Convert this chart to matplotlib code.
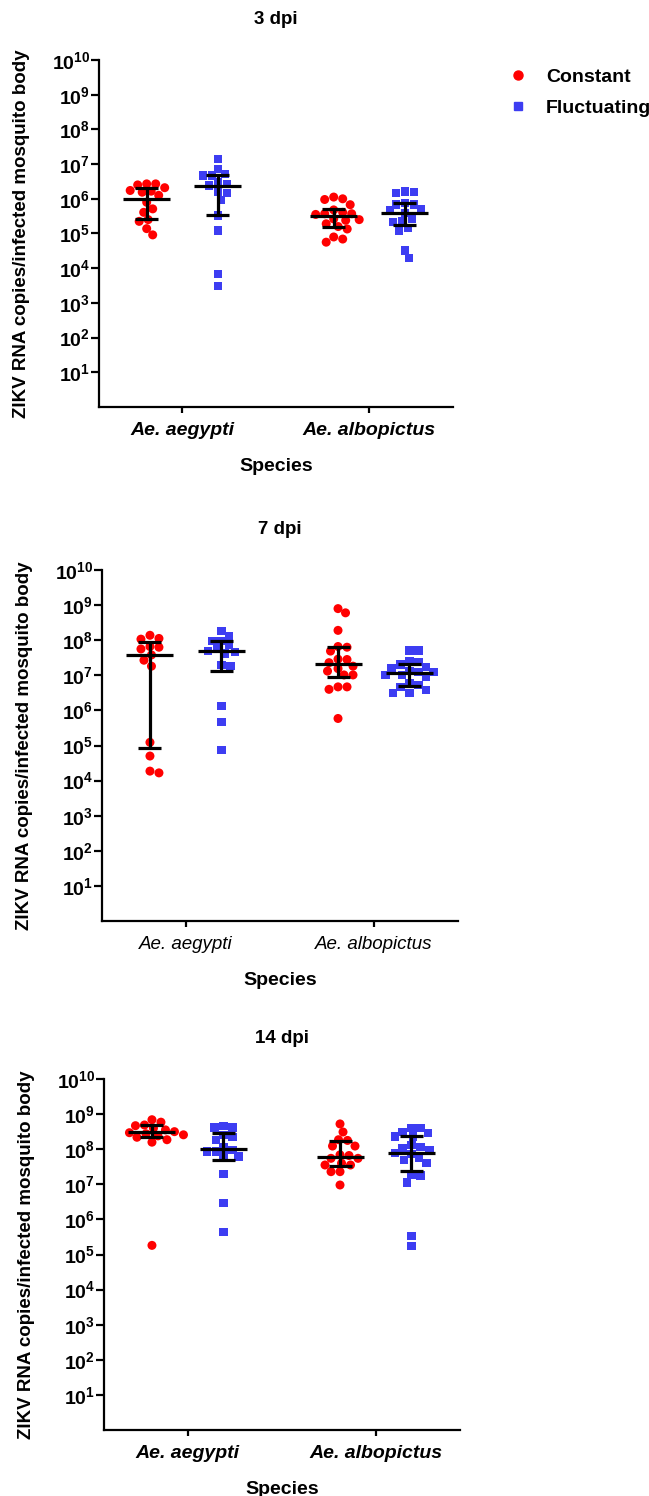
import matplotlib
matplotlib.use('Agg')
import matplotlib.pyplot as plt
import numpy as np
from matplotlib.ticker import FixedLocator, FuncFormatter, NullLocator
from matplotlib.lines import Line2D

plt.rcParams['font.family'] = ['Liberation Sans', 'DejaVu Sans']
plt.rcParams['mathtext.fontset'] = 'custom'
plt.rcParams['mathtext.bf'] = 'Liberation Sans:bold'
plt.rcParams['mathtext.rm'] = 'Liberation Sans'

species = ['Ae. aegypti', 'Ae. albopictus']
conditions = ['Constant', 'Fluctuating']
titles = ['3 dpi', '7 dpi', '14 dpi']

# log10(ZIKV RNA copies) per mosquito
d3_const_aeg = [6.40, 6.43, 6.43, 6.32, 6.24, 6.19, 6.22, 6.10, 5.90, 5.71, 5.61, 5.40, 5.35, 5.14, 4.96]
d3_fluc_aeg = [7.15, 6.86, 6.67, 6.72, 6.67, 6.48, 6.43, 6.38, 6.21, 6.16, 5.97, 5.52, 5.09, 3.84, 3.49]
d3_const_alb = [6.05, 5.98, 6.00, 5.83, 5.68, 5.57, 5.61, 5.55, 5.57, 5.42, 5.38, 5.40, 5.28, 5.20, 5.13, 4.90, 4.84, 4.75]
d3_fluc_alb = [6.21, 6.17, 6.19, 5.87, 5.84, 5.84, 5.66, 5.71, 5.59, 5.33, 5.42, 5.35, 5.16, 5.09, 4.51, 4.29]

d7_const_aeg = [8.05, 8.03, 8.14, 7.80, 7.75, 7.82, 7.58, 7.43, 7.26, 5.09, 4.70, 4.22, 4.27]
d7_fluc_aeg = [8.26, 8.12, 7.86, 7.98, 7.98, 7.77, 7.70, 7.62, 7.67, 7.29, 7.26, 6.12, 5.67, 4.87]
d7_const_alb = [8.78, 8.90, 8.28, 7.82, 7.80, 7.69, 7.45, 7.36, 7.46, 7.26, 7.12, 7.19, 7.01, 7.01, 6.67, 6.60, 6.67, 5.77]
d7_fluc_alb = [7.71, 7.71, 7.41, 7.38, 7.31, 7.20, 7.23, 7.10, 7.10, 7.13, 7.01, 6.96, 7.01, 6.72, 6.77, 6.58, 6.50, 6.50, 6.66]

d14_const_aeg = [8.77, 8.69, 8.60, 8.67, 8.84, 8.47, 8.38, 8.55, 8.44, 8.41, 8.50, 8.27, 8.20, 8.34, 5.26]
d14_fluc_aeg = [8.62, 8.62, 8.67, 8.41, 8.34, 8.27, 7.98, 7.93, 7.93, 8.05, 7.79, 7.79, 7.29, 6.47, 5.65]
d14_const_alb = [8.72, 8.49, 8.27, 8.25, 8.09, 8.09, 7.82, 7.84, 7.74, 7.74, 7.55, 7.36, 7.36, 7.60, 7.55, 6.98]
d14_fluc_alb = [8.60, 8.60, 8.47, 8.49, 8.36, 8.12, 8.03, 7.98, 8.06, 7.89, 7.86, 7.74, 7.69, 7.60, 7.25, 7.27, 7.05, 5.25, 5.52, 8.36]

# median, q1, q3 (log10) as drawn, order: const aeg, fluc aeg, const alb, fluc alb
d3_median = [6.00, 6.38, 5.50, 5.59]
d3_q1 = [5.42, 5.52, 5.18, 5.25]
d3_q3 = [6.31, 6.69, 5.71, 5.87]
d7_median = [7.58, 7.70, 7.31, 7.07]
d7_q1 = [4.94, 7.13, 6.94, 6.70]
d7_q3 = [7.96, 7.98, 7.80, 7.32]
d14_median = [8.49, 8.01, 7.77, 7.90]
d14_q1 = [8.36, 7.69, 7.53, 7.39]
d14_q3 = [8.69, 8.47, 8.24, 8.38]

panels = [
    ([d3_const_aeg, d3_fluc_aeg, d3_const_alb, d3_fluc_alb], d3_median, d3_q1, d3_q3),
    ([d7_const_aeg, d7_fluc_aeg, d7_const_alb, d7_fluc_alb], d7_median, d7_q1, d7_q3),
    ([d14_const_aeg, d14_fluc_aeg, d14_const_alb, d14_fluc_alb], d14_median, d14_q1, d14_q3),
]

red = '#ff0000'
blue = '#3d3df2'
W, H = 649, 1496


def swarm(logv, px_per_dec, dia=8.5, step=1.5):
    # simple beeswarm: horizontal pixel offsets so markers don't overlap much
    y = np.asarray(logv) * px_per_dec
    xs = np.zeros(len(y))
    placed = []
    cands = [0.0] + [s * j * step for j in range(1, 80) for s in (1, -1)]
    for i in np.argsort(-y):
        for c in cands:
            if all((c - xs[j]) ** 2 + (y[i] - y[j]) ** 2 >= dia ** 2 for j in placed):
                xs[i] = c
                break
        placed.append(i)
    return xs


fig = plt.figure(figsize=(W / 100, H / 100), dpi=100)
# axes boxes in pixels: left, top, right, bottom
boxes = [(99, 60, 453, 407), (102, 570, 458, 921), (104, 1079, 460, 1430)]
xlim = (0.555, 2.448)
offset = 0.19

for p, (box, (groups, med, q1, q3)) in enumerate(zip(boxes, panels)):
    l, t, r, b = box
    ax = fig.add_axes([l / W, 1 - b / H, (r - l) / W, (b - t) / H])
    ax.set_yscale('log')
    ax.set_ylim(1, 1e10)
    ax.set_xlim(*xlim)
    px_per_x = (r - l) / (xlim[1] - xlim[0])
    px_per_dec = (b - t) / 10.0

    for g, vals in enumerate(groups):
        center = 1 + g // 2 + (-offset if g % 2 == 0 else offset)
        xs = center + swarm(vals, px_per_dec) / px_per_x
        if g % 2 == 0:
            ax.scatter(xs, 10 ** np.asarray(vals), s=42, marker='o', color=red,
                       edgecolors='none', zorder=2, clip_on=False)
        else:
            ax.scatter(xs, 10 ** np.asarray(vals), s=36, marker='s', color=blue,
                       edgecolors='none', zorder=2, clip_on=False)
        hw = 23.5 / px_per_x
        cw = 11.5 / px_per_x
        kw = dict(color='black', lw=2.3, zorder=3, solid_capstyle='butt')
        ax.plot([center - hw, center + hw], [10 ** med[g]] * 2, **kw)
        ax.plot([center, center], [10 ** q1[g], 10 ** q3[g]], **kw)
        ax.plot([center - cw, center + cw], [10 ** q1[g]] * 2, **kw)
        ax.plot([center - cw, center + cw], [10 ** q3[g]] * 2, **kw)

    for side in ['top', 'right']:
        ax.spines[side].set_visible(False)
    for side in ['left', 'bottom']:
        ax.spines[side].set_linewidth(1.6)
    ax.yaxis.set_major_locator(FixedLocator([10.0 ** k for k in range(1, 11)]))
    ax.yaxis.set_minor_locator(NullLocator())
    ax.yaxis.set_major_formatter(FuncFormatter(
        lambda v, pos: r'$\mathbf{10^{%d}}$' % round(np.log10(v))))
    ax.tick_params(axis='y', length=5.5, width=1.6, labelsize=14, pad=1)
    ax.set_xticks([1, 2])
    if p == 1:
        ax.set_xticklabels(species, fontsize=13.5, style='italic')
    else:
        ax.set_xticklabels(species, fontsize=14, style='italic', fontweight='bold')
    ax.tick_params(axis='x', length=4.5, width=1.6, pad=6)

    ax.set_title(titles[p], fontsize=13.5, fontweight='bold', pad=26)
    ax.set_xlabel('Species', fontsize=14, fontweight='bold', labelpad=14)
    ax.set_ylabel('ZIKV RNA copies/infected mosquito body', fontsize=13.5,
                  fontweight='bold', va='center')
    ax.yaxis.set_label_coords(-77 / (r - l), 0.5)

    if p == 0:
        handles = [Line2D([], [], ls='none', marker='o', color=red, markersize=6.5),
                   Line2D([], [], ls='none', marker='s', color=blue, markersize=6)]
        leg = ax.legend(handles, conditions, loc='upper left',
                        bbox_to_anchor=(508 / W, 1 - 68 / H), bbox_transform=fig.transFigure,
                        frameon=False, handlelength=1.0, handletextpad=0.95,
                        labelspacing=0.72, borderpad=0, borderaxespad=0,
                        prop={'size': 14, 'weight': 'bold'})

fig.savefig('out.png', dpi=100)
